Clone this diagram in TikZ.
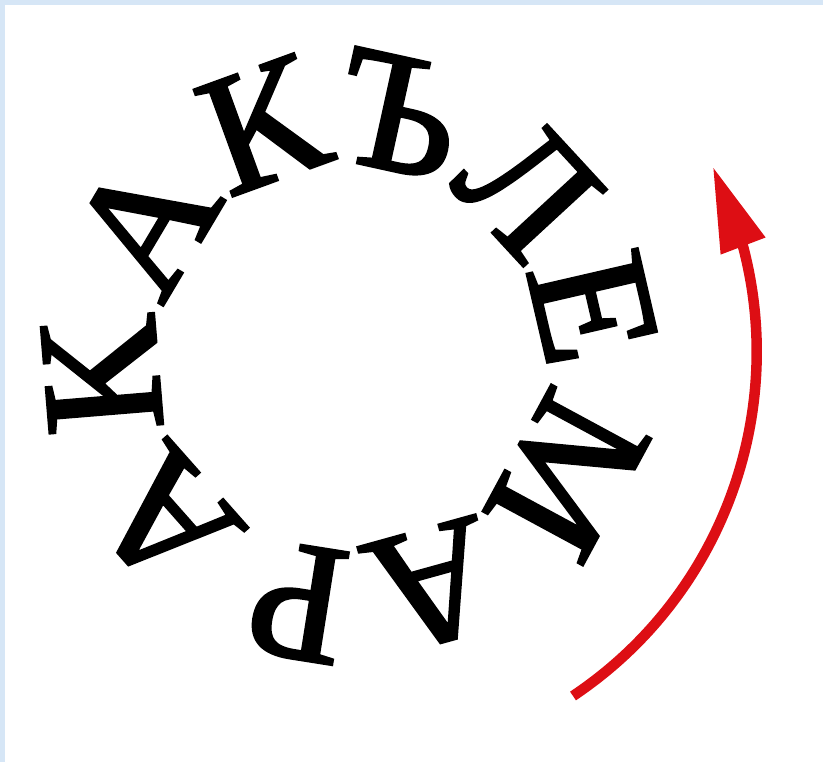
\documentclass[tikz,border=0pt]{standalone}
\usepackage{fontspec}
\setmainfont{Liberation Serif}
\newfontfamily\ringfont[FakeBold=2]{Liberation Serif}
\usetikzlibrary{arrows.meta,bending}

\definecolor{arrowred}{RGB}{221,14,20}
\definecolor{paleblue}{RGB}{214,230,246}

\begin{document}
\begin{tikzpicture}[x=1pt, y=1pt, letter/.style={inner sep=0pt, font=\ringfont\fontsize{172}{172}\selectfont}]
  % frame
  \fill[paleblue] (0,0) rectangle (823,762);
  \fill[white] (5,0) rectangle (823,757);
  \useasboundingbox (0,0) rectangle (823,762);

  % letters round the ring, clockwise from the top
  \node[letter, rotate=20] (ka) at (263,637) {К};
  \node[letter, rotate=-12.4] (yer) at (398,648) {Ъ};
  \node[letter, rotate=-47.3] (el) at (528,573) {Л};
  \node[letter, rotate=-77] (ye) at (593,454) {Е};
  \node[letter, rotate=-118.4] (em) at (567,287) {М};
  \node[letter, rotate=-164.5] (abot) at (432,176) {А};
  \node[letter, rotate=171] (er) at (298,160) {Р};
  \node[letter, rotate=131.5] (alow) at (165,242) {А};
  \node[letter, rotate=94.7] (kleft) at (102,386) {К};
  \node[letter, rotate=59.3] (aup) at (145,538) {А};

  % turning arrow
  \coordinate (tail) at (573,66);
  \draw[arrowred, line width=10.5pt, -{Triangle[length=85pt, width=45pt]}] (tail) arc[start angle=-56.2, end angle=26.6, radius=414pt];
\end{tikzpicture}
\end{document}
